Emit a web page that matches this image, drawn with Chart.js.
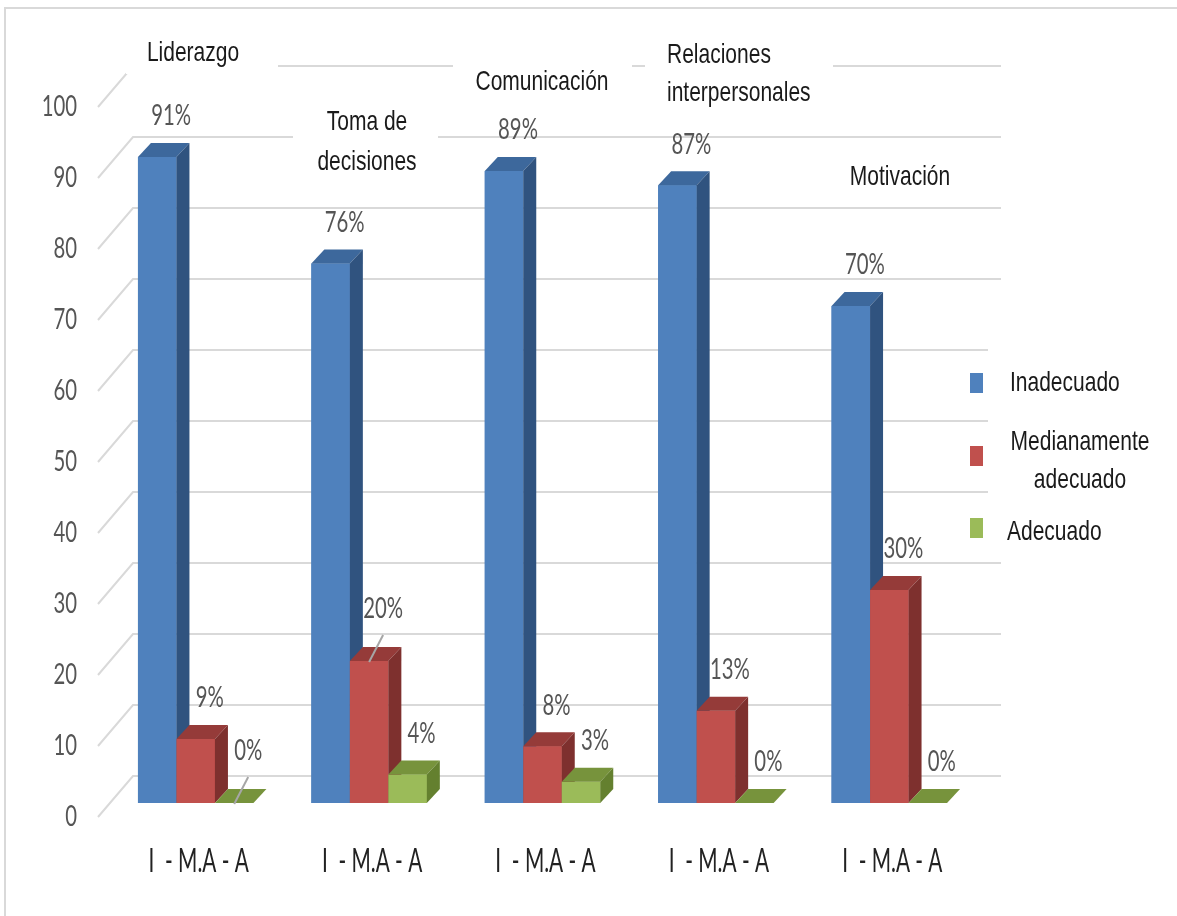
<!DOCTYPE html>
<html>
<head>
<meta charset="utf-8">
<script src="https://cdn.jsdelivr.net/npm/chart.js@4.4.0/dist/chart.umd.min.js"></script>
<style>
  html, body { margin: 0; padding: 0; background: #ffffff; }
  canvas { display: block; }
</style>
</head>
<body>
<canvas id="chart" width="1177" height="916"></canvas>
<script>
// ---- data ----
const categories = ['Liderazgo', 'Toma de decisiones', 'Comunicación', 'Relaciones interpersonales', 'Motivación'];
const groupLabels = ['I  - M.A - A', 'I  - M.A - A', 'I  - M.A - A', 'I  - M.A - A', 'I  - M.A - A'];
const seriesNames = ['Inadecuado', 'Medianamente adecuado', 'Adecuado'];
const inadecuado = [91, 76, 89, 87, 70];
const medianamente = [9, 20, 8, 13, 30];
const adecuado = [0, 4, 3, 0, 0];
const yTicks = [0, 10, 20, 30, 40, 50, 60, 70, 80, 90, 100];

// ---- look ----
const FRONT = ['#4F81BD', '#C0504D', '#9BBB59'];
const TOP   = ['#3D689C', '#953B39', '#77933C'];
const SIDE  = ['#30537F', '#7E302E', '#64802F'];
const DEPTH_X = 13, DEPTH_Y = -14;          // bar depth
const WALL_X = 35, WALL_Y = -41;            // side wall depth (front edge -> back wall)
const BACK_SHIFT = -27;                     // back wall offset from bar plane
const FRONT_SHIFT = 14;                     // front edge offset from bar plane
const GRID_LEFT = 133, GRID_RIGHT = 1001;
const GRID_COLOR = '#D9D9D9';
const TEXT_GREY = '#555555';
const TEXT_DARK = '#1A1A1A';
const SANS = '"Liberation Sans", Arial, sans-serif';
const NUM = 'Lato, "Open Sans", sans-serif';

// Category title placement (text boxes with white fill over the back wall)
const titleLayout = [
  { x: 193, y: 53,  align: 'center', lh: 39, box: [126, 28, 278, 74] },
  { x: 367, y: 122, align: 'center', lh: 40, box: [293, 98, 438, 184] },
  { x: 542, y: 82,  align: 'center', lh: 39, box: [453, 55, 632, 106] },
  { x: 667, y: 55,  align: 'left',   lh: 38, box: [645, 28, 833, 112] },
  { x: 900, y: 177, align: 'center', lh: 39, box: [845, 158, 955, 196] }
];
// labels that sit higher with a leader line: [datasetIndex, dataIndex]
const leaderLabels = [[2, 0], [1, 1]];

function squeezedText(ctx, text, x, y, font, color, align, sx) {
  ctx.save();
  ctx.font = font;
  ctx.fillStyle = color;
  ctx.textAlign = align;
  ctx.textBaseline = 'middle';
  ctx.translate(x, y);
  ctx.scale(sx, 1);
  ctx.fillText(text, 0, 0);
  ctx.restore();
}

function poly(ctx, pts, color) {
  ctx.beginPath();
  ctx.moveTo(pts[0][0], pts[0][1]);
  for (let i = 1; i < pts.length; i++) ctx.lineTo(pts[i][0], pts[i][1]);
  ctx.closePath();
  ctx.fillStyle = color;
  ctx.fill();
}

function titleLines(t) {
  const w = t.split(' ');
  if (w.length < 2) return [t];
  return [w.slice(0, -1).join(' '), w[w.length - 1]];
}

const wallPlugin = {
  id: 'wall',
  beforeDatasetsDraw(chart) {
    const ctx = chart.ctx;
    const y = chart.scales.y;
    // outer frame (top and left edges)
    ctx.save();
    ctx.strokeStyle = '#D9D9D9';
    ctx.lineWidth = 2;
    ctx.beginPath();
    ctx.moveTo(1177, 8); ctx.lineTo(5, 8); ctx.lineTo(5, 916);
    ctx.stroke();

    // gridlines: side wall slant + back wall
    ctx.strokeStyle = GRID_COLOR;
    ctx.lineWidth = 2;
    yTicks.forEach(v => {
      const back = y.getPixelForValue(v) + BACK_SHIFT;
      ctx.beginPath();
      ctx.moveTo(GRID_LEFT - WALL_X, back - WALL_Y);
      ctx.lineTo(GRID_LEFT, back);
      ctx.lineTo(GRID_RIGHT, back);
      ctx.stroke();
    });
    ctx.restore();

    // value axis labels on the front edge
    yTicks.forEach(v => {
      squeezedText(ctx, String(v), 77, y.getPixelForValue(v) + FRONT_SHIFT,
        '29px ' + NUM, TEXT_GREY, 'right', 0.7);
    });

    // category titles
    categories.forEach((c, i) => {
      const L = titleLayout[i];
      ctx.fillStyle = '#ffffff';
      ctx.fillRect(L.box[0], L.box[1], L.box[2] - L.box[0], L.box[3] - L.box[1]);
      titleLines(c).forEach((line, k) => {
        squeezedText(ctx, line, L.x, L.y + k * L.lh, '28px ' + SANS, TEXT_DARK, L.align, 0.75);
      });
    });
  },
  afterDatasetsDraw(chart) {
    const ctx = chart.ctx;
    const xs = chart.scales.x;
    // redraw each series front-to-back so each bar's depth faces sit under the next bar
    chart.data.datasets.forEach((ds, d) => {
      const meta = chart.getDatasetMeta(d);
      meta.data.forEach(bar => {
        const p = bar.getProps(['x', 'y', 'base', 'width'], true);
        const l = p.x - p.width / 2, r = p.x + p.width / 2;
        if (p.base - p.y > 0.5) bar.draw(ctx);
        poly(ctx, [[l, p.y], [l + DEPTH_X, p.y + DEPTH_Y], [r + DEPTH_X, p.y + DEPTH_Y], [r, p.y]], TOP[d]);
        if (p.base - p.y > 0.5) {
          poly(ctx, [[r, p.y], [r + DEPTH_X, p.y + DEPTH_Y], [r + DEPTH_X, p.base + DEPTH_Y], [r, p.base]], SIDE[d]);
        }
      });
    });

    // value labels
    chart.data.datasets.forEach((ds, d) => {
      const meta = chart.getDatasetMeta(d);
      meta.data.forEach((bar, i) => {
        const p = bar.getProps(['x', 'y'], true);
        const lead = leaderLabels.some(a => a[0] === d && a[1] === i);
        const lx = p.x + 14, ly = p.y + (lead ? -52 : -41);
        if (lead) {
          ctx.save();
          ctx.strokeStyle = '#A6A6A6';
          ctx.lineWidth = 2;
          ctx.beginPath();
          ctx.moveTo(lx, ly + 26);
          ctx.lineTo(lx - 14, p.y + 1);
          ctx.stroke();
          ctx.restore();
        }
        squeezedText(ctx, ds.data[i] + '%', lx, ly, '29px ' + NUM, TEXT_GREY, 'center', 0.7);
      });
    });

    // group labels under the bars
    groupLabels.forEach((g, i) => {
      squeezedText(ctx, g, xs.getPixelForValue(i) + 3, 862, '32px ' + NUM, '#222222', 'center', 0.65);
    });

    // legend
    ctx.fillStyle = '#ffffff';
    ctx.fillRect(988, 340, 189, 208);
    const legendY = [383, 456, 528];
    seriesNames.forEach((n, k) => {
      ctx.fillStyle = FRONT[k];
      ctx.fillRect(970, legendY[k] - 10, 13, 20);
      const words = n.split(' ');
      if (words.length > 1) {
        squeezedText(ctx, words[0], 1080, legendY[k] - 14, '28px ' + SANS, TEXT_DARK, 'center', 0.75);
        squeezedText(ctx, words.slice(1).join(' '), 1080, legendY[k] + 24, '28px ' + SANS, TEXT_DARK, 'center', 0.75);
      } else {
        squeezedText(ctx, n, k === 2 ? 1007 : 1010, legendY[k] + (k === 2 ? 4 : 0), '28px ' + SANS, TEXT_DARK, 'left', 0.75);
      }
    });
  }
};

new Chart(document.getElementById('chart'), {
  type: 'bar',
  data: {
    labels: categories,
    datasets: [
      { label: seriesNames[0], data: inadecuado, backgroundColor: FRONT[0] },
      { label: seriesNames[1], data: medianamente, backgroundColor: FRONT[1] },
      { label: seriesNames[2], data: adecuado, backgroundColor: FRONT[2] }
    ]
  },
  options: {
    responsive: false,
    devicePixelRatio: 1,
    animation: false,
    layout: { padding: { left: 109, right: 201, top: 93, bottom: 113 } },
    datasets: { bar: { barPercentage: 1, categoryPercentage: 0.666, borderWidth: 0 } },
    scales: {
      x: { display: false },
      y: { display: false, min: 0, max: 100 }
    },
    plugins: { legend: { display: false }, tooltip: { enabled: false } }
  },
  plugins: [wallPlugin]
});
</script>
</body>
</html>
